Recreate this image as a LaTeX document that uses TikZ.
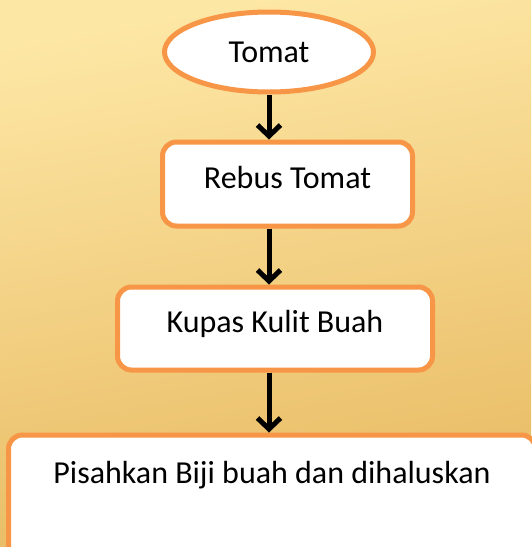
\documentclass[tikz,border=0pt]{standalone}
\usepackage{xcolor}
\usepackage{fontspec}
\setmainfont{Carlito}
\usepackage{tikz}
\usetikzlibrary{positioning, shapes, arrows.meta}
\definecolor{accentorange}{RGB}{247,150,70}
\definecolor{bgtop}{RGB}{253,231,165}
\definecolor{bgbottom}{RGB}{232,186,98}

\begin{document}
\begin{tikzpicture}[x=1pt, y=1pt, every node/.style={transform shape}]
	\tikzstyle{stepr}=[draw=accentorange, line width=5pt, fill=white, rounded corners=14pt, text=black, font=\fontsize{32}{38}\selectfont, text height=22pt, text depth=14pt, inner sep=0pt]
	
	\tikzstyle{stepstart}=[ellipse, draw=accentorange, line width=5pt, fill=white, text=black, font=\fontsize{32}{38}\selectfont, inner sep=0pt]
	
	\tikzstyle{arr}=[-{Straight Barb[length=11pt, width=23pt, line width=5pt]}, black, line width=5pt]
	
	%% background
	\useasboundingbox (0,0) rectangle (531,-547);
	\fill [top color=bgtop, bottom color=bgbottom, shading angle=10] (0,0) rectangle (531,-547);
	
	\node [stepstart, minimum width=209pt, minimum height=80pt] (T1) at (269,-52) {Tomat};
	
	\node [below=45pt of T1, xshift=18.5pt, stepr, minimum width=250pt, minimum height=84pt] (T2) {Rebus Tomat};
	\draw [arr] (T1.south) -- (T1.south |- T2.north);
	
	\node [below=56pt of T2, xshift=-12.5pt, stepr, minimum width=315pt, minimum height=83pt] (T3) {Kupas Kulit Buah};
	\draw [arr] (T1.south |- T2.south) -- (T1.south |- T3.north);
	
	\node [below=60pt of T3, xshift=-3pt, stepr, minimum width=527pt, minimum height=140pt, text depth=66pt] (T4) {Pisahkan Biji buah dan dihaluskan};
	\draw [arr] (T1.south |- T3.south) -- (T1.south |- T4.north);
\end{tikzpicture}
\end{document}
